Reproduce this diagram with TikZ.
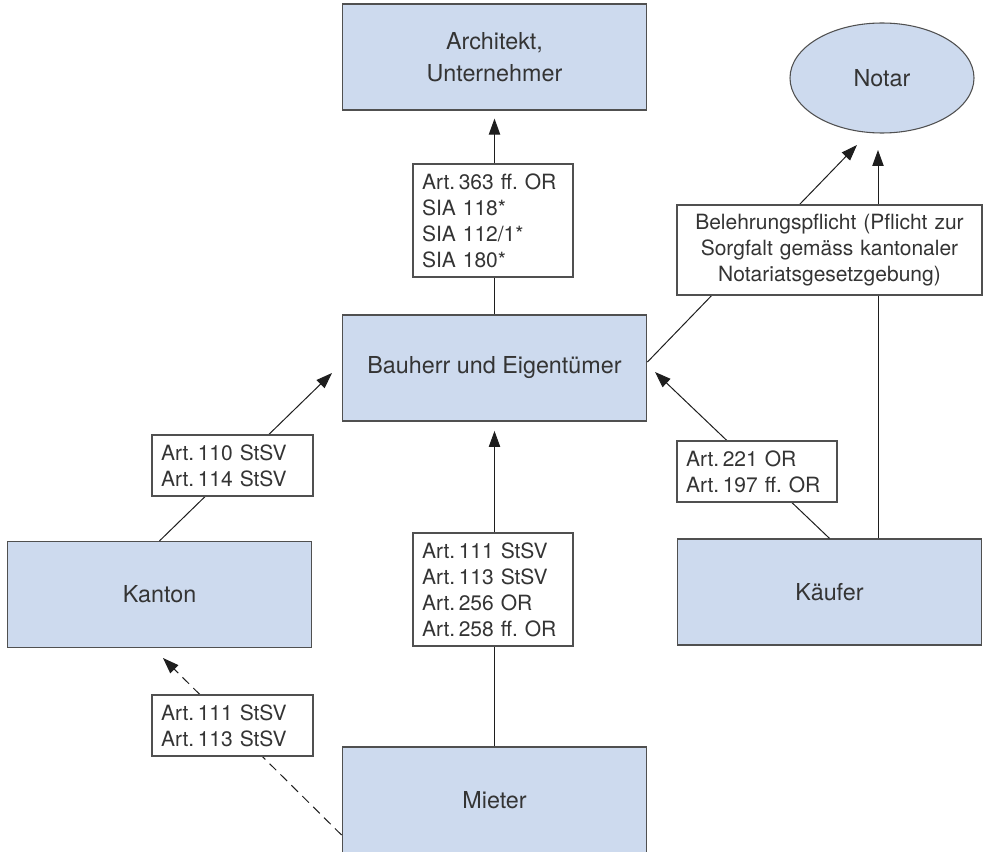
\documentclass[tikz,border=0pt]{standalone}
\usepackage{fontspec}
\setmainfont{TeX Gyre Heros}
\usetikzlibrary{shapes.geometric,arrows.meta,calc}
\frenchspacing
\definecolor{boxblue}{RGB}{205,218,238}
\definecolor{edgegray}{RGB}{80,80,80}
\definecolor{txtgray}{RGB}{52,52,52}
\definecolor{linegray}{RGB}{30,30,30}
\tikzset{
  party/.style={draw=edgegray, line width=0.9pt, fill=boxblue, text=txtgray,
    font=\fontsize{17.5}{24}\selectfont, align=center, inner sep=0pt,
    minimum width=228.5pt, minimum height=79.5pt},
  notarshape/.style={ellipse, draw=edgegray, line width=0.8pt, fill=boxblue, text=txtgray,
    font=\fontsize{17.5}{24}\selectfont, inner sep=0pt,
    minimum width=138pt, minimum height=82.5pt},
  lawbox/.style={draw=edgegray, line width=0.8pt, fill=white, text=txtgray,
    font=\fontsize{15.75}{19.5}\selectfont, align=left, inner xsep=6.75pt, inner ysep=0pt,
    text width=#1},
  conn/.style={draw=linegray, line width=0.75pt},
  arr/.style={conn, -{Triangle[length=12pt,width=8.5pt]}},
}
\begin{document}
\begin{tikzpicture}[x=0.75pt,y=-0.75pt]
\useasboundingbox (0,0) rectangle (986,852);
\clip (0,0) rectangle (986,852);

% parties
\node[party] (arch) at (494.5,57) {Architekt,\\Unternehmer};
\node[notarshape] (notar) at (882,78) {Notar};
\node[party] (bau) at (494.5,368) {Bauherr und Eigentümer};
\node[party] (kanton) at (159.5,594.5) {Kanton};
\node[party] (kaeufer) at (829.5,592) {Käufer};
\node[party] (mieter) at (494.5,800) {Mieter};

% arrow tips
\coordinate (tBauW) at (332,373);
\coordinate (tBauE) at (655,372);
\coordinate (tNotD) at (857,145);
\coordinate (tNotV) at (878,150);
\coordinate (tKan) at (163,658);

% connectors
\draw[arr, shorten >=6pt] (bau.north) -- (arch.south);
\draw[arr, shorten >=7pt] (mieter.north) -- (bau.south);
\draw[arr] (kanton.north) -- (tBauW);
\draw[arr] (kaeufer.north) -- (tBauE);
\draw[arr] ($(bau.east)+(0,-6)$) -- (tNotD);
\draw[arr] (kaeufer.north -| tNotV) -- (tNotV);
\draw[arr, dash pattern=on 7pt off 4.5pt] ($(mieter.west)+(0,35)$) -- (tKan);

% legal references
\node[lawbox=106.5pt, minimum height=84.75pt] (sia) at (493,220.5)
  {Art.\,363 ff. OR\\SIA 118*\\SIA 112/1*\\SIA 180*};
\node[lawbox=106.5pt, minimum height=84.75pt] (lmid) at (493,589.5)
  {Art.\,111 StSV\\Art.\,113 StSV\\Art.\,256 OR\\Art.\,258 ff. OR};
\node[lawbox=107.25pt, minimum height=45.75pt] (l110) at (232.5,465.5)
  {Art.\,110 StSV\\Art.\,114 StSV};
\node[lawbox=107.25pt, minimum height=45.75pt] (l111) at (232.5,725.5)
  {Art.\,111 StSV\\Art.\,113 StSV};
\node[lawbox=106.5pt, minimum height=45.75pt] (l221) at (757,471.5)
  {Art.\,221 OR\\Art.\,197 ff. OR};
\node[lawbox=215.25pt, align=center, minimum height=67.5pt] (beleh) at (829.5,250)
  {Belehrungspflicht (Pflicht zur\\Sorgfalt gemäss kantonaler\\Notariatsgesetzgebung)};
\end{tikzpicture}
\end{document}
